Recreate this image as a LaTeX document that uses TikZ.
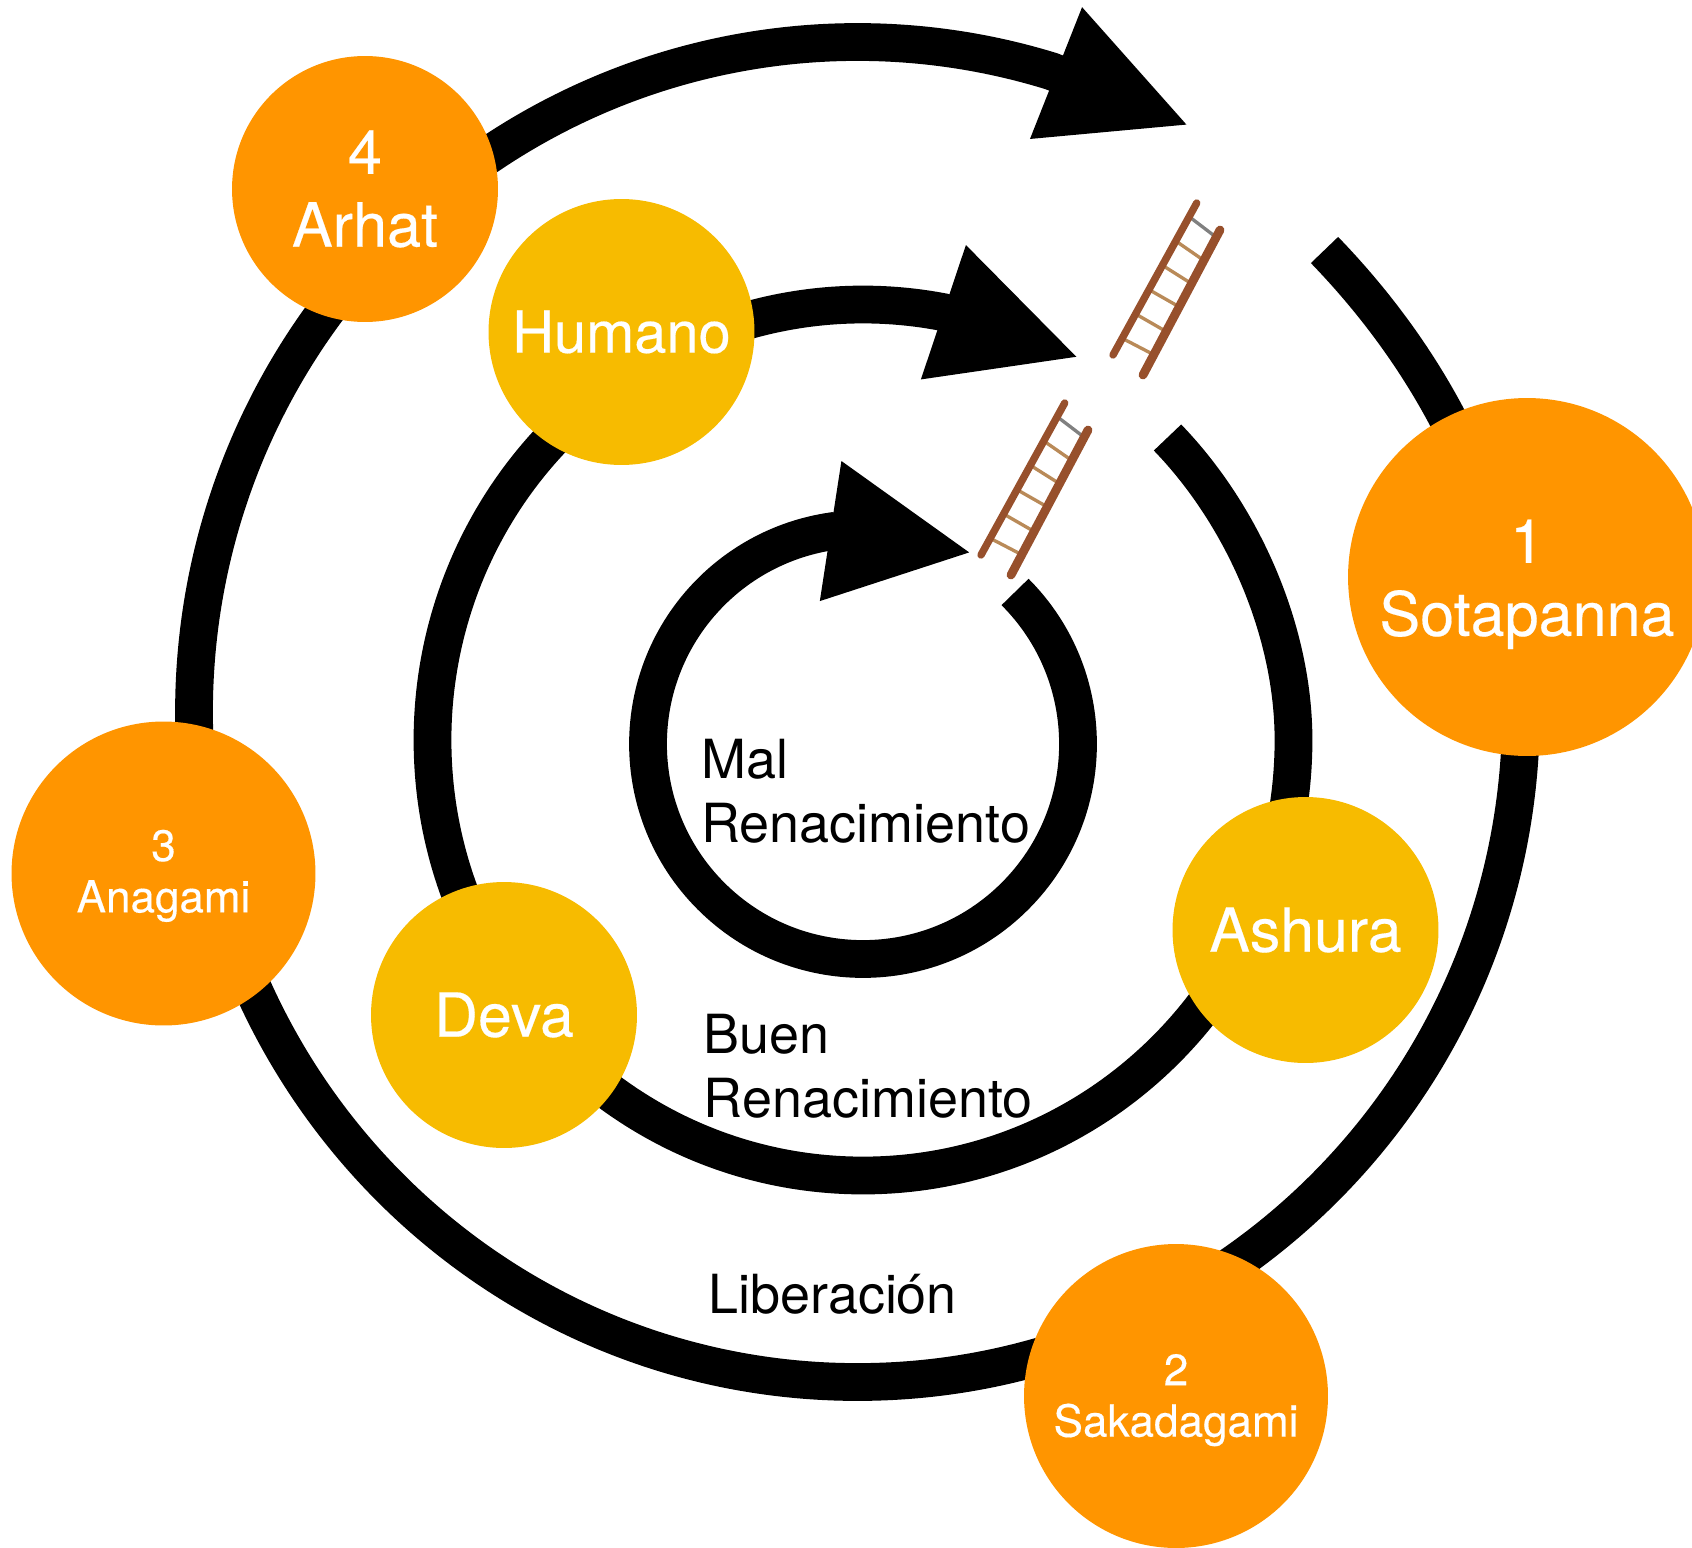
\documentclass[tikz,border=0pt]{standalone}
\usepackage{fontspec}
\setmainfont{TeX Gyre Heros}
\newfontfamily\blanca[FakeBold=0.3]{TeX Gyre Heros}
\usepackage{xcolor}
\usetikzlibrary{arrows.meta, calc}
\definecolor{Naranja}{HTML}{FF9500}
\definecolor{Amarillo}{HTML}{F7BB00}
\definecolor{Riel}{HTML}{97502C}
\definecolor{Peldano}{HTML}{B98A58}
\tikzstyle{ring}=[%
      line width=21.5pt, draw=black, -{Triangle[length=82pt,width=74pt]}
]
\tikzstyle{reino}=[%
      circle, fill=Amarillo, text=white, inner sep=0pt, minimum size=5.32cm, align=center,
      font=\blanca\fontsize{34.6}{41.5}\selectfont
]
\tikzstyle{grande}=[%
      circle, fill=Naranja, text=white, inner sep=0pt, align=center,
      font=\blanca\fontsize{34.8}{41.5}\selectfont
]
\tikzstyle{menor}=[%
      circle, fill=Naranja, text=white, inner sep=0pt, minimum size=6.08cm, align=center,
      font=\blanca\fontsize{25.1}{29.2}\selectfont
]
\tikzstyle{rotulo}=[%
      anchor=west, text=black, align=left, inner sep=0pt,
      font=\fontsize{30.7}{36.6}\selectfont
]
\tikzset{
  ladder/.pic={
    \coordinate (a) at (83.7,76);
    \coordinate (b) at (0,-76);
    \coordinate (c) at (107,49);
    \coordinate (d) at (30,-96);
    \foreach \s/\e/\col in {.09/.05/gray, .25/.21/Peldano, .41/.37/Peldano, .57/.53/Peldano, .73/.70/Peldano, .89/.86/Peldano}
      \draw[line width=1.9pt, \col] ($(a)!\s!(b)$) -- ($(c)!\e!(d)$);
    \draw[Riel, line width=4.2pt, line cap=round] (a) -- (b);
    \draw[Riel, line width=5pt, line cap=round] (c) -- (d);
  }
}
\begin{document}
\begin{tikzpicture}[x=0.02cm, y=0.02cm]
    \useasboundingbox (0,0) rectangle (1692,-1547);

    \coordinate (gapOuter) at (1324.5,-250);
    \coordinate (rightOuter) at (1521,-712);
    \coordinate (gapMiddle) at (1167.5,-437.5);
    \coordinate (rightMiddle) at (1293.5,-740);
    \coordinate (cInner) at (863,-744);
    \coordinate (tipInner) at (973,-553);
    \coordinate (tipMiddle) at (1080,-358);
    \coordinate (tipOuter) at (1190,-126);

    % the three rings, each from the gap round to its arrow
    \draw[ring] (gapOuter) to[out=-46, in=90, looseness=.9] (rightOuter)
      arc[start angle=0, end angle=-287, x radius=663.5, y radius=670] -- (tipOuter);
    \draw[ring] (gapMiddle) to[out=-46, in=90, looseness=.85] (rightMiddle)
      arc[start angle=0, end angle=-280.7, x radius=430.5, y radius=435.5] -- (tipMiddle);
    \draw[ring] (cInner) ++(45:215) arc[start angle=45, end angle=-261.7, radius=215] -- (tipInner);

    \pic at (1113,-279) {ladder};
    \pic at (981,-479) {ladder};

    \node[grande, minimum size=5.32cm] (arhat) at (365,-189) {4\\Arhat};
    \node[reino, font=\blanca\fontsize{32.9}{41.5}\selectfont] (humano) at (621.5,-332) {Humano};
    \node[grande, minimum size=7.16cm] (sotapanna) at (1527,-577) {\rule{0pt}{33pt}1\\Sotapanna};
    \node[reino] (ashura) at (1305.5,-930) {Ashura};
    \node[reino] (deva) at (504,-1015) {Deva};
    \node[menor] (anagami) at (163.5,-873.5) {\rule{0pt}{20.5pt}3\\Anagami};
    \node[menor] (sakadagami) at (1176,-1396) {\rule{0pt}{22.5pt}2\\Sakadagami};

    \node[rotulo] (mal) at (701,-791) {Mal\\Renacimiento};
    \node[rotulo] (buen) at (703.5,-1066) {Buen\\Renacimiento};
    \node[rotulo] (liberacion) at (708,-1294) {Liberación};
\end{tikzpicture}
\end{document}
